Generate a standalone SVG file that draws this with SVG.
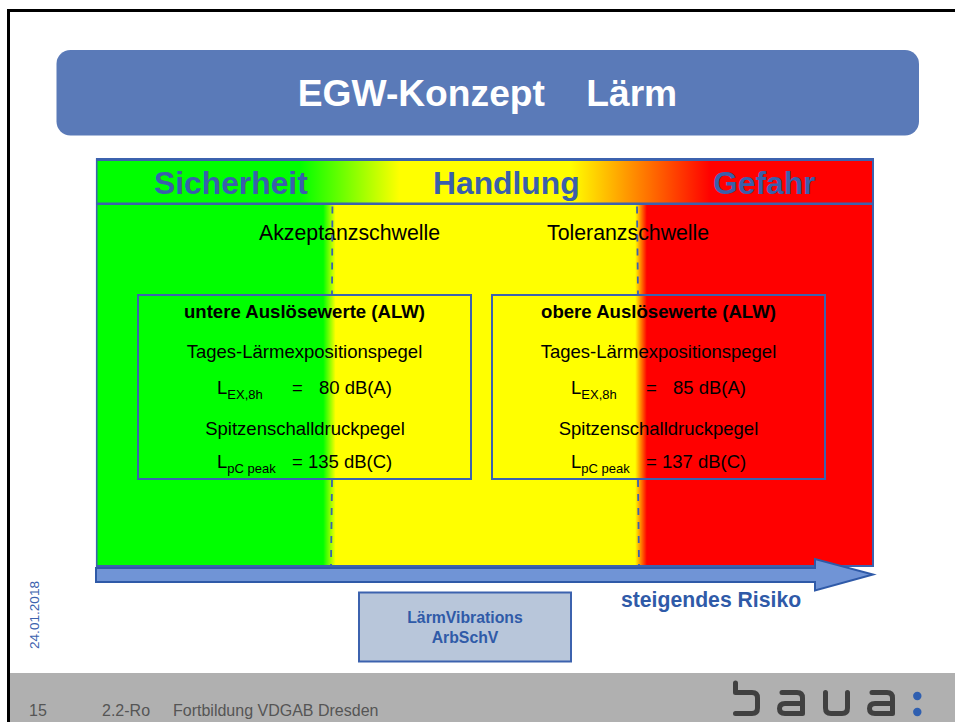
<svg xmlns="http://www.w3.org/2000/svg" width="955" height="722" viewBox="0 0 955 722">
<style>
text{font-family:"Liberation Sans",Arial,sans-serif}
.h{font-size:31.800px;font-weight:bold;fill:#3a5fab}
.t{font-size:21.300px;fill:#000}
.b{font-size:18.500px;fill:#000}
.bb{font-size:18.600px;font-weight:bold;fill:#000}
.s{font-size:13px;fill:#000}
.box{fill:none;stroke:#3c62ae;stroke-width:2}
.dash{fill:none;stroke:#3c62ae;stroke-width:1.800;stroke-dasharray:7 7}
.f{font-size:16px;fill:#555}
.logo{fill:none;stroke:#404040;stroke-width:5;stroke-linejoin:round;stroke-linecap:round}
</style>
<defs>
<linearGradient id="gh" gradientUnits="userSpaceOnUse" x1="96" x2="874" y1="0" y2="0">
<stop offset="0.262" stop-color="#00ff00"/><stop offset="0.39" stop-color="#ffff00"/><stop offset="0.61" stop-color="#ffff00"/><stop offset="0.79" stop-color="#ff0000"/>
</linearGradient>
<linearGradient id="gb" gradientUnits="userSpaceOnUse" x1="96" x2="874" y1="0" y2="0">
<stop offset="0.292" stop-color="#00ff00"/><stop offset="0.308" stop-color="#ffff00"/><stop offset="0.693" stop-color="#ffff00"/><stop offset="0.708" stop-color="#ff0000"/>
</linearGradient>
</defs>
<rect width="955" height="722" fill="#fff"/>
<g id="frame">
<rect x="10" y="673" width="945" height="49" fill="#b0b0b0"/>
<rect x="7" y="9" width="948" height="3" fill="#000"/>
<rect x="7" y="9" width="3" height="713" fill="#000"/>
</g>
<g id="title">
<rect x="56.500" y="50" width="862.500" height="85.500" rx="14" fill="#5a7ab8"/>
<text x="487.500" y="106" text-anchor="middle" font-size="37.200" font-weight="bold" fill="#fff" xml:space="preserve">EGW-Konzept    Lärm</text>
</g>
<g id="panel">
<rect x="97" y="160" width="776" height="44" fill="url(#gh)"/>
<rect x="97" y="204" width="776" height="362" fill="url(#gb)"/>
<path d="M96.700 159H873V566H96.700Z" fill="none" stroke="#3c62ae" stroke-width="1.600"/>
<rect x="96" y="158" width="778" height="3" fill="#3c62ae"/>
<rect x="96" y="202.500" width="778" height="2.500" fill="#3c62ae"/>
<rect x="872" y="158" width="2" height="409" fill="#3c62ae"/>
<rect x="96" y="565" width="778" height="2" fill="#3c62ae"/>
<text class="h" x="154" y="194">Sicherheit</text>
<text class="h" x="433" y="194">Handlung</text>
<text class="h" x="713" y="194">Gefahr</text>
<text class="t" x="259" y="240">Akzeptanzschwelle</text>
<text class="t" x="547" y="240">Toleranzschwelle</text>
</g>
<g id="connectors">
<path class="dash" d="M332.400 206.500L332 295"/>
<path class="dash" d="M332 480L331 565"/>
<path class="dash" d="M637 206.500L638 295"/>
<path class="dash" d="M638 480L639 565"/>
</g>
<g id="alw-lower">
<rect class="box" x="138" y="295" width="333" height="184"/>
<text class="bb" x="304.500" y="318" text-anchor="middle">untere Auslösewerte (ALW)</text>
<text class="b" x="304.500" y="358" text-anchor="middle">Tages-Lärmexpositionspegel</text>
<text class="b" x="217" y="394">L<tspan class="s" dy="4.500">EX,8h</tspan></text>
<text class="b" x="292" y="394">=</text><text class="b" x="319" y="394">80 dB(A)</text>
<text class="b" x="305" y="435" text-anchor="middle">Spitzenschalldruckpegel</text>
<text class="b" x="217" y="468">L<tspan class="s" dy="4.500">pC peak</tspan></text>
<text class="b" x="292" y="468">= 135 dB(C)</text>
</g>
<g id="alw-upper">
<rect class="box" x="492" y="295" width="333" height="184"/>
<text class="bb" x="658.500" y="318" text-anchor="middle">obere Auslösewerte (ALW)</text>
<text class="b" x="658.500" y="358" text-anchor="middle">Tages-Lärmexpositionspegel</text>
<text class="b" x="571" y="394">L<tspan class="s" dy="4.500">EX,8h</tspan></text>
<text class="b" x="646" y="394">=</text><text class="b" x="673" y="394">85 dB(A)</text>
<text class="b" x="658.500" y="435" text-anchor="middle">Spitzenschalldruckpegel</text>
<text class="b" x="571" y="468">L<tspan class="s" dy="4.500">pC peak</tspan></text>
<text class="b" x="646" y="468">= 137 dB(C)</text>
</g>
<g id="risk-arrow">
<path d="M96 568H815V559L873 574.500L815 590.500V582H96Z" fill="#7094d6" stroke="#2f5aa8" stroke-width="2"/>
<text x="621" y="607" font-size="21.200" font-weight="bold" fill="#2f5aa8">steigendes Risiko</text>
</g>
<g id="law-box">
<rect x="359" y="592.500" width="212" height="69" fill="#b8c6da" stroke="#3c62ae" stroke-width="2"/>
<text x="465" y="623" text-anchor="middle" font-size="15.800" font-weight="bold" fill="#2f5aa8">LärmVibrations</text>
<text x="465" y="643" text-anchor="middle" font-size="15.800" font-weight="bold" fill="#2f5aa8">ArbSchV</text>
</g>
<g id="date">
<text transform="translate(39 649) rotate(-90)" font-size="13.600" fill="#3c62ae">24.01.2018</text>
</g>
<g id="footer">
<text class="f" x="29" y="716">15</text>
<text class="f" x="102" y="716">2.2-Ro</text>
<text class="f" x="173" y="716">Fortbildung VDGAB Dresden</text>
</g>
<g id="logo">
<path class="logo" d="M735.500 683V692.500H752Q757.500 692.500 757.500 698V708Q757.500 713.500 752 713.500H735.500"/>
<path class="logo" d="M782 692.500H797Q802.500 692.500 802.500 698V713.500H785Q779.500 713.500 779.500 708.500Q779.500 703.500 785 703.500H802.500"/>
<path class="logo" d="M825.500 692.500V708Q825.500 713.500 831 713.500H842Q847.500 713.500 847.500 708V692.500"/>
<path class="logo" d="M872 692.500H887Q892.500 692.500 892.500 698V713.500H875Q869.500 713.500 869.500 708.500Q869.500 703.500 875 703.500H892.500"/>
<circle cx="917.300" cy="696" r="4.200" fill="#2f5fb0"/>
<circle cx="917.300" cy="712" r="4.200" fill="#2f5fb0"/>
</g>
</svg>
